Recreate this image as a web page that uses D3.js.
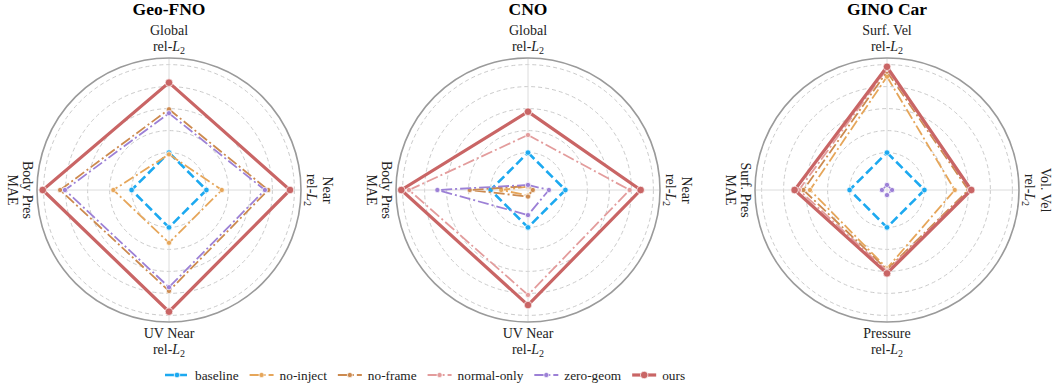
<!DOCTYPE html>
<html>
<head>
<meta charset="utf-8">
<script src="https://cdn.jsdelivr.net/npm/d3@7"></script>
<style>
  body { margin: 0; background: #fff; }
  svg { display: block; font-family: "Liberation Serif", "Times New Roman", serif; }
</style>
</head>
<body>
<svg id="chart" width="1053" height="389"></svg>
<script>
// panels and their axes (clockwise from the top)
const panelTitles = ["Geo-FNO", "CNO", "GINO Car"];
const axisLabels = [
  [["Global", "rel-L_2"], ["Near", "rel-L_2"], ["UV Near", "rel-L_2"], ["Body Pres", "MAE"]],
  [["Global", "rel-L_2"], ["Near", "rel-L_2"], ["UV Near", "rel-L_2"], ["Body Pres", "MAE"]],
  [["Surf. Vel", "rel-L_2"], ["Vol. Vel", "rel-L_2"], ["Pressure", "rel-L_2"], ["Surf. Pres", "MAE"]]
];
const ringTicks = [1, 2, 3, 4, 5];
const radialDomain = [-0.7, 5.3];

// series values, one row per panel, one value per axis
const seriesNames = ["baseline", "no-inject", "no-frame", "normal-only", "zero-geom", "ours"];
const baselineVals = [[1, 1, 1, 1], [1, 1, 1, 1], [1, 1, 1, 1]];
const noInjectVals = [[0.92, 1.7, 1.7, 1.83], [-0.55, -0.5, -0.45, 0.52], [4.45, 2.38, 2.86, 2.8]];
const noFrameVals = [[2.97, 3.81, 3.89, 4.25], [-0.52, -0.48, -0.4, 1.95], [4.68, 3.0, 2.92, 3.1]];
const normalOnlyVals = [[4.18, 4.8, 4.83, 5.04], [1.8, 3.92, 4.07, 4.71], [4.8, 3.08, 2.98, 3.3]];
const zeroGeomVals = [[2.79, 3.66, 3.72, 4.03], [-0.47, 0.25, 0.44, 3.42], [-0.47, -0.47, -0.47, -0.47]];
const oursVals = [[4.18, 4.8, 4.83, 5.04], [2.86, 4.42, 4.53, 5.06], [4.9, 3.13, 3.09, 3.5]];

const allVals = [baselineVals, noInjectVals, noFrameVals, normalOnlyVals, zeroGeomVals, oursVals];
const styles = [
  { color: "#1ca9f0", width: 2.6, dash: "9,4", mr: 2.8 },
  { color: "#e6a65a", width: 1.8, dash: "11,3,2,3", mr: 2.6 },
  { color: "#cc8a4f", width: 1.8, dash: "11,3,2,3", mr: 2.6 },
  { color: "#e39c9c", width: 1.8, dash: "12,3,2,3", mr: 2.6 },
  { color: "#9c80d6", width: 1.8, dash: "11,3,2,3", mr: 2.6 },
  { color: "#c96565", width: 3.2, dash: null, mr: 3.8 }
];

const svg = d3.select("#chart");
const centersX = [169, 528, 887];
const cy = 190;
const outerR = 132;

const r = d3.scaleLinear().domain(radialDomain).range([0, outerR]);
const angle = d3.scaleLinear().domain([0, 4]).range([0, 2 * Math.PI]);

// one text element per label, lines as tspans
function labelLines(textSel, lines, step) {
  lines.forEach((str, k) => {
    const dy = k === 0 ? 0 : step;
    if (str.includes("L_2")) {
      const pre = str.split("L_2")[0];
      textSel.append("tspan").attr("x", 0).attr("dy", dy).text(pre);
      textSel.append("tspan").attr("font-style", "italic").text("L");
      textSel.append("tspan").attr("font-size", 10).attr("dy", 3).text("2");
    } else {
      textSel.append("tspan").attr("x", 0).attr("dy", dy).text(str);
    }
  });
}

panelTitles.forEach((title, p) => {
  const cx = centersX[p];
  const g = svg.append("g").attr("transform", `translate(${cx},${cy})`);

  // grid rings
  g.selectAll(".ring")
    .data(ringTicks)
    .join("circle")
    .attr("r", (d) => r(d))
    .attr("fill", "none")
    .attr("stroke", "#cbcbcb")
    .attr("stroke-width", 1)
    .attr("stroke-dasharray", "4,3");

  // spokes
  g.selectAll(".spoke")
    .data(d3.range(4))
    .join("line")
    .attr("x2", (i) => outerR * Math.sin(angle(i)))
    .attr("y2", (i) => -outerR * Math.cos(angle(i)))
    .attr("stroke", "#dcdcdc")
    .attr("stroke-width", 1);

  // outer circle
  g.append("circle")
    .attr("r", outerR)
    .attr("fill", "none")
    .attr("stroke", "#9a9a9a")
    .attr("stroke-width", 1.6);

  // series
  const line = d3.lineRadial()
    .angle((d, i) => angle(i))
    .radius((d) => r(d))
    .curve(d3.curveLinearClosed);

  allVals.forEach((vals, s) => {
    const st = styles[s];
    const data = vals[p];
    g.append("path")
      .attr("d", line(data))
      .attr("fill", "none")
      .attr("stroke", st.color)
      .attr("stroke-width", st.width)
      .attr("stroke-dasharray", st.dash)
      .attr("stroke-linejoin", "miter");
    g.selectAll(null)
      .data(data)
      .join("circle")
      .attr("cx", (d, i) => r(d) * Math.sin(angle(i)))
      .attr("cy", (d, i) => -r(d) * Math.cos(angle(i)))
      .attr("r", st.mr)
      .attr("fill", st.color)
      .attr("stroke", "#fff")
      .attr("stroke-width", 0.7);
  });

  // title
  svg.append("text")
    .attr("x", cx)
    .attr("y", 15)
    .attr("text-anchor", "middle")
    .attr("font-weight", "bold")
    .attr("font-size", 17.5)
    .text(title);

  // axis labels
  const labels = axisLabels[p];
  const step = 15.5;
  const place = [
    `translate(${cx},${cy - 139.5 - step})`,
    `translate(${cx + 138 + step},${cy}) rotate(90)`,
    `translate(${cx},${cy + 148.3})`,
    `translate(${cx - 146},${cy}) rotate(90)`
  ];
  labels.forEach((lines, i) => {
    const t = svg.append("text")
      .attr("transform", place[i])
      .attr("text-anchor", "middle")
      .attr("font-size", 14)
      .attr("fill", "#222");
    labelLines(t, lines, step);
  });
});

// legend
const legend = svg.append("g").attr("transform", "translate(165,375)");
let lx = 0;
seriesNames.forEach((name, s) => {
  const st = styles[s];
  const item = legend.append("g").attr("transform", `translate(${lx},0)`);
  item.append("line")
    .attr("x1", 0).attr("x2", 24)
    .attr("stroke", st.color)
    .attr("stroke-width", st.width)
    .attr("stroke-dasharray", st.dash);
  item.append("circle")
    .attr("cx", 12)
    .attr("r", st.mr)
    .attr("fill", st.color)
    .attr("stroke", "#fff")
    .attr("stroke-width", 0.7);
  const t = item.append("text")
    .attr("x", 30)
    .attr("y", 4.8)
    .attr("font-size", 13.3)
    .attr("fill", "#222")
    .text(name);
  lx += 30 + t.node().getComputedTextLength() + 11;
});
</script>
</body>
</html>
